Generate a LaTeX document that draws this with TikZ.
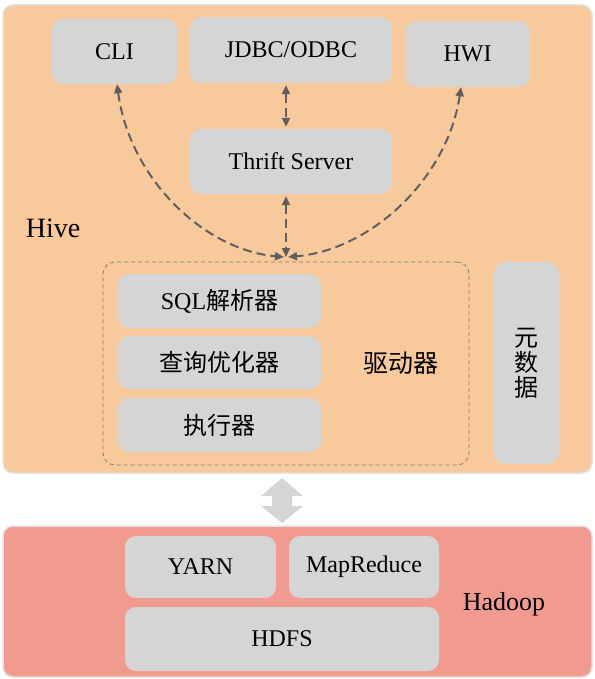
\documentclass[tikz,border=0pt]{standalone}
\usepackage{fontspec}
\setmainfont{Liberation Serif}
\newfontfamily\cjk{Noto Sans CJK SC}
\usetikzlibrary{arrows.meta}
\definecolor{hivefill}{RGB}{248,201,155}
\definecolor{hadoopfill}{RGB}{241,155,143}
\definecolor{boxgray}{RGB}{213,213,213}
\definecolor{arrowgray}{RGB}{95,95,95}
\definecolor{framegray}{RGB}{226,226,226}
\begin{document}
\begin{tikzpicture}[x=1pt,y=-1pt,
  panel/.style={draw=framegray,line width=1.5pt,rounded corners=10pt},
  gbox/.style={fill=boxgray,rounded corners=11pt,inner sep=0pt,
    font=\fontsize{24}{26}\selectfont},
  lab/.style={font=\fontsize{26}{28}\selectfont},
  conn/.style={draw=arrowgray,line width=2pt,dash pattern=on 9pt off 5pt,
    {Triangle[length=9pt,width=8pt]}-{Triangle[length=9pt,width=8pt]}}]
\useasboundingbox (0,0) rectangle (594,679);
% panels
\draw[panel,fill=hivefill] (3,5) rectangle (592,473);
\draw[panel,fill=hadoopfill] (3,526) rectangle (592,677);
% Hive nodes
\node[gbox,minimum width=125pt,minimum height=65pt] (cli) at (114.5,51.5) {CLI};
\node[gbox,minimum width=202pt,minimum height=66pt] (jdbc) at (291,50) {JDBC/ODBC};
\node[gbox,minimum width=125pt,minimum height=66pt] (hwi) at (467.5,54) {HWI};
\node[gbox,minimum width=202pt,minimum height=65pt] (thrift) at (291,161.5) {Thrift Server};
\node[draw=arrowgray!80,line width=0.8pt,dash pattern=on 4pt off 3pt,rounded corners=12pt,
  minimum width=366pt,minimum height=203pt,inner sep=0pt] (driver) at (286,363.5) {};
\node[gbox,minimum width=203pt,minimum height=54pt] (sql) at (219.5,301) {SQL{\cjk 解析器}};
\node[gbox,minimum width=203pt,minimum height=53pt] (opt) at (219.5,362.5) {\cjk 查询优化器};
\node[gbox,minimum width=203pt,minimum height=54pt] (exec) at (219.5,425) {\cjk 执行器};
\node[font=\cjk\fontsize{25}{27}\selectfont] (drvlab) at (401,363) {驱动器};
\node[gbox,minimum width=65pt,minimum height=202pt,align=center,
  font=\cjk\fontsize{24}{25}\selectfont] (meta) at (526.5,363) {元\\数\\据};
\node[lab,font=\fontsize{28}{30}\selectfont] (hive) at (53,228) {Hive};
% Hadoop nodes
\node[gbox,minimum width=151pt,minimum height=62pt] (yarn) at (200.5,567) {YARN};
\node[gbox,minimum width=150pt,minimum height=62pt] (mr) at (364,567) {MapReduce};
\node[gbox,minimum width=314pt,minimum height=64pt] (hdfs) at (282,639) {HDFS};
\node[lab] (hadoop) at (504,604) {Hadoop};
% connectors
\coordinate (hub) at (286,257);
\draw[conn] ([xshift=2.5pt]cli.south) .. controls (130,180) and (205,250) .. ([xshift=-2pt]hub);
\draw[conn] ([xshift=-6.5pt]hwi.south) .. controls (447,180) and (370,250) .. ([xshift=2pt]hub);
\draw[conn] ([xshift=-5pt,yshift=-2pt]jdbc.south) -- ([xshift=-5pt,yshift=2pt]thrift.north);
\draw[conn] ([xshift=-5pt,yshift=-2pt]thrift.south) -- (hub);
% big double arrow
\fill[boxgray] (282,478) -- (303,496) -- (292,496) -- (292,506) -- (303,506) -- (282,523)
  -- (261,506) -- (272,506) -- (272,496) -- (261,496) -- cycle;
\end{tikzpicture}
\end{document}
